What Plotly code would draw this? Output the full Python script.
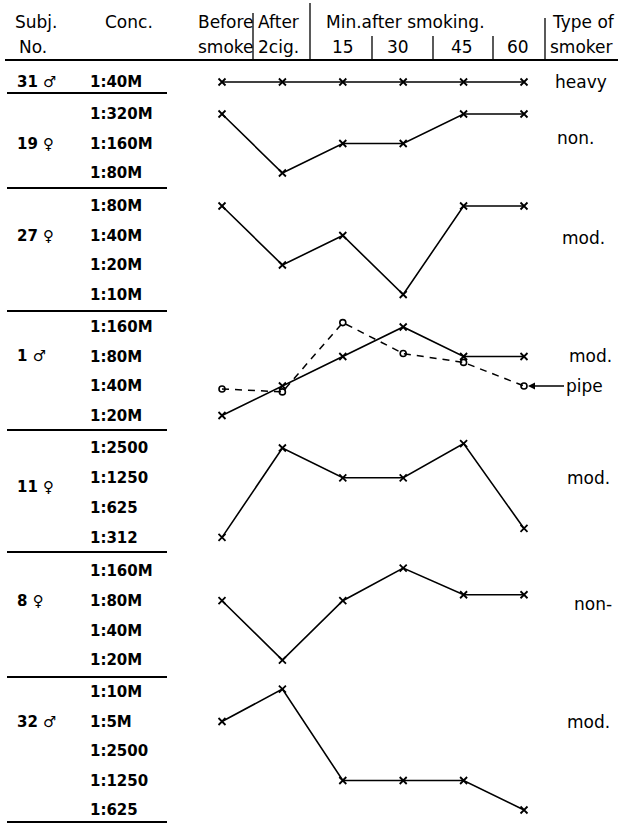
import plotly.graph_objects as go

W, H = 624, 825

# ---------------- data ----------------
time_labels = ["Before smoke", "After 2cig.", "15", "30", "45", "60"]
time_index = [0, 1, 2, 3, 4, 5]

subjects = ["31 ♂", "19 ♀", "27 ♀", "1 ♂", "11 ♀", "8 ♀", "32 ♂"]
smoker_type = ["heavy", "non.", "mod.", "mod.", "mod.", "non-", "mod."]

conc_31 = ["1:40M"]
conc_19 = ["1:320M", "1:160M", "1:80M"]
conc_27 = ["1:80M", "1:40M", "1:20M", "1:10M"]
conc_1 = ["1:160M", "1:80M", "1:40M", "1:20M"]
conc_11 = ["1:2500", "1:1250", "1:625", "1:312"]
conc_8 = ["1:160M", "1:80M", "1:40M", "1:20M"]
conc_32 = ["1:10M", "1:5M", "1:2500", "1:1250", "1:625"]

# level of each reading: 0 = bottom concentration row of the subject
lvl_31 = [0, 0, 0, 0, 0, 0]
lvl_19 = [2, 0, 1, 1, 2, 2]
lvl_27 = [3, 1, 2, 0, 3, 3]
lvl_1 = [0, 1, 2, 3, 2, 2]
lvl_1_pipe = [0.9, 0.8, 3.15, 2.1, 1.8, 1.0]
lvl_11 = [0, 3, 2, 2, 3.15, 0.3]
lvl_8 = [2, 0, 2, 3.1, 2.2, 2.2]
lvl_32 = [3, 4.1, 1, 1, 1, 0]

concs = [conc_31, conc_19, conc_27, conc_1, conc_11, conc_8, conc_32]
levels = [lvl_31, lvl_19, lvl_27, lvl_1, lvl_11, lvl_8, lvl_32]

# ---------------- layout geometry (pixels) ----------------
row_top = [82, 114, 206, 327, 448, 571, 692]
row_gap = [29, 29.5, 29.5, 29.5, 29.8, 29.7, 29.5]
subj_lvl = [0, 1, 2, 2, 1.7, 2, 3]
type_pos = [(553, 0), (555, 1.2), (560, 1.9), (567, 2), (565, 2), (572, 1.9), (565, 3)]
sep_y = [93, 188, 311, 430, 552, 677, 822]

x0_px, dx_px = 222, 60.4


def py(p):
    return 1 - p / H


def px(p):
    return p / W


HAND = "DejaVu Sans, Verdana, sans-serif"
BOLD = "DejaVu Sans, Verdana, sans-serif"

fig = go.Figure()
layout = dict(
    width=W, height=H, margin=dict(l=0, r=0, t=0, b=0),
    paper_bgcolor="white", plot_bgcolor="white", showlegend=False,
    xaxis=dict(range=[-x0_px / dx_px, (W - x0_px) / dx_px], domain=[0, 1],
               visible=False, anchor="y", fixedrange=True),
)

annotations = []
for g, (conc, lv) in enumerate(zip(concs, levels)):
    n = len(conc)
    top = row_top[g] - row_gap[g] / 2
    bot = row_top[g] + (n - 1) * row_gap[g] + row_gap[g] / 2
    name = "yaxis" if g == 0 else f"yaxis{g + 1}"
    yref = "y" if g == 0 else f"y{g + 1}"
    layout[name] = dict(
        domain=[py(bot), py(top)], range=[-0.5, n - 0.5],
        anchor="free", position=px(86), showgrid=False, zeroline=False,
        showline=False, ticks="", tickvals=list(range(n)), ticktext=conc[::-1],
        ticklabelposition="inside",
        tickfont=dict(family=BOLD, size=15, color="black", weight="bold"),
        fixedrange=True,
    )
    fig.add_trace(go.Scatter(
        x=time_index, y=lv, xaxis="x", yaxis=yref, mode="lines+markers",
        line=dict(color="black", width=1.6),
        marker=dict(symbol="x-thin", size=7, line=dict(color="black", width=1.8)),
        cliponaxis=False, hoverinfo="skip",
    ))
    if g == 3:
        fig.add_trace(go.Scatter(
            x=time_index, y=lvl_1_pipe, xaxis="x", yaxis=yref, mode="lines+markers",
            line=dict(color="black", width=1.5, dash="7px,6px"),
            marker=dict(symbol="circle-open", size=6, line=dict(color="black", width=1.6)),
            cliponaxis=False, hoverinfo="skip",
        ))
    annotations.append(dict(
        text=subjects[g], xref="paper", yref=yref, x=px(15), y=subj_lvl[g],
        xanchor="left", yanchor="middle", showarrow=False,
        font=dict(family=BOLD, size=15, color="black", weight="bold"),
    ))
    tx, tl = type_pos[g]
    annotations.append(dict(
        text=smoker_type[g], xref="paper", yref=yref, x=px(tx), y=tl,
        xanchor="left", yanchor="middle", showarrow=False,
        font=dict(family=HAND, size=17, color="black"),
    ))

# pipe arrow label
annotations.append(dict(
    text="pipe", xref="paper", yref="y4", x=px(528), y=1.0,
    ax=36, ay=0, xanchor="left", yanchor="middle", showarrow=True,
    arrowhead=2, arrowsize=1, arrowwidth=1.4, arrowcolor="black",
    font=dict(family=HAND, size=17, color="black"),
))

# header texts
hdr = [
    ("Subj.", 13, 22), ("No.", 17, 47), ("Conc.", 103, 22),
    ("Before", 196, 22), ("smoke", 196, 47), ("After", 256, 22), ("2cig.", 256, 47),
    ("Min.after smoking.", 324, 22), ("Type of", 550, 22), ("smoker", 548, 47),
]
for t, xx, yy in hdr:
    annotations.append(dict(
        text=t, xref="paper", yref="paper", x=px(xx), y=py(yy),
        xanchor="left", yanchor="middle", showarrow=False,
        font=dict(family=HAND, size=17, color="black"),
    ))
# minute sub-headers, centred on their columns
for t, xx in zip(time_labels[2:], [343, 398, 462, 518]):
    annotations.append(dict(
        text=t, xref="paper", yref="paper", x=px(xx), y=py(47),
        xanchor="center", yanchor="middle", showarrow=False,
        font=dict(family=HAND, size=17, color="black"),
    ))

shapes = []
line = dict(color="black", width=1.8)
shapes.append(dict(type="line", xref="paper", yref="paper",
                   x0=px(5), x1=px(618), y0=py(60), y1=py(60), line=line))
for xx, ytop in [(253, 13), (310, 3), (372, 36), (433, 36), (493, 36), (545, 18)]:
    shapes.append(dict(type="line", xref="paper", yref="paper",
                       x0=px(xx), x1=px(xx), y0=py(ytop), y1=py(60),
                       line=dict(color="black", width=1.3)))
for yy in sep_y:
    shapes.append(dict(type="line", xref="paper", yref="paper",
                       x0=px(7), x1=px(167), y0=py(yy), y1=py(yy), line=line))

layout["annotations"] = annotations
layout["shapes"] = shapes
fig.update_layout(**layout)
fig.write_html(
    "out.html",
    config={"displayModeBar": False, "staticPlot": True},
    post_script="document.body.style.margin='0';document.body.style.overflow='hidden';",
)
